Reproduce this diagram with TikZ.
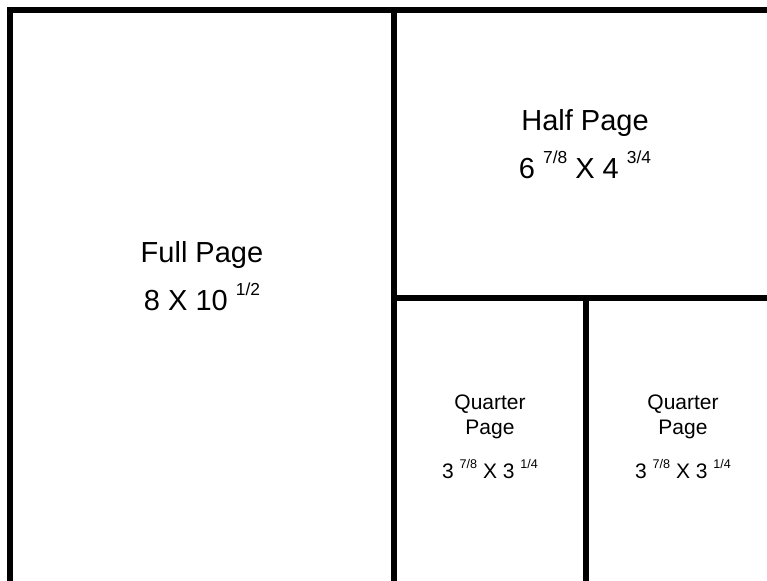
\documentclass[tikz,border=0pt]{standalone}
\usepackage{fontspec}
\setmainfont{Liberation Sans}
\newcommand{\sfrac}[1]{\raisebox{0.5em}{\fontsize{0.6em}{0.65em}\selectfont #1}}

\begin{document}
\begin{tikzpicture}[x=1pt, y=-1pt]
\tikzset{
  wall/.style={line width=6pt, line cap=rect},
  big/.style={align=center, font=\fontsize{29}{34}\selectfont, inner sep=0pt},
  small/.style={align=center, font=\fontsize{21}{25}\selectfont, inner sep=0pt}
}
\useasboundingbox (0,0) rectangle (767,580);

% --- frame and dividers ---
\coordinate (tl) at (10,10);
\coordinate (tr) at (770,10);
\coordinate (bl) at (10,583);
\coordinate (mt) at (394,10);
\coordinate (mb) at (394,583);
\coordinate (hl) at (394,298);
\coordinate (hr) at (770,298);
\coordinate (qt) at (586,298);
\coordinate (qb) at (586,583);
\draw[wall] (bl) -- (tl) -- (tr);
\draw[wall] (mt) -- (mb);
\draw[wall] (hl) -- (hr);
\draw[wall] (qt) -- (qb);

% --- full page ---
\node[big] (fulltitle) at (202,255) {Full Page};
\node[big] (fullsize) at (202,297) {8 X 10 \sfrac{1/2}};

% --- half page ---
\node[big] (halftitle) at (585,123) {Half Page};
\node[big] (halfsize) at (585,165) {6 \sfrac{7/8} X 4 \sfrac{3/4}};

% --- quarter pages ---
\node[small] (qatitle) at (490,417) {Quarter\\Page};
\node[small] (qasize) at (490,469) {3 \sfrac{7/8} X 3 \sfrac{1/4}};
\node[small] (qbtitle) at (683,417) {Quarter\\Page};
\node[small] (qbsize) at (683,469) {3 \sfrac{7/8} X 3 \sfrac{1/4}};
\end{tikzpicture}
\end{document}
